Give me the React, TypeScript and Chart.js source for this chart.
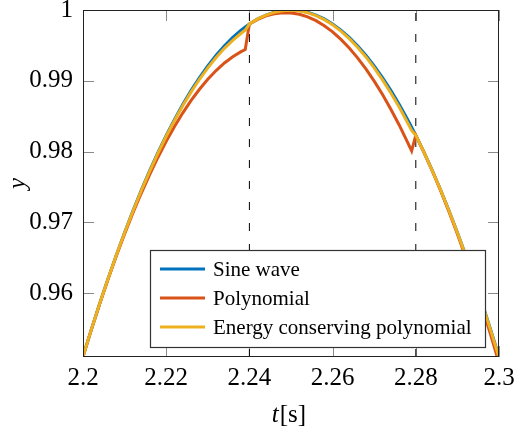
import React, { useEffect, useRef } from 'react';
import { Chart, registerables } from 'chart.js';

Chart.register(...registerables);

// ---- data ----
const tValues = [
  2.200, 2.202, 2.204, 2.206, 2.208, 2.210, 2.212, 2.214, 2.216, 2.218,
  2.220, 2.222, 2.224, 2.226, 2.228, 2.230, 2.232, 2.234, 2.236, 2.238,
  2.239, 2.240, 2.242, 2.244, 2.246, 2.248, 2.250, 2.252, 2.254, 2.256,
  2.258, 2.260, 2.262, 2.264, 2.266, 2.268, 2.270, 2.272, 2.274, 2.276,
  2.278, 2.279, 2.280, 2.282, 2.284, 2.286, 2.288, 2.290, 2.292, 2.294,
  2.296, 2.298, 2.300,
];

const sineWave = [
  0.95106, 0.95486, 0.95852, 0.96203, 0.96538, 0.96858, 0.97163, 0.97453, 0.97727, 0.97986,
  0.98229, 0.98456, 0.98669, 0.98865, 0.99046, 0.99211, 0.99361, 0.99495, 0.99613, 0.99716,
  0.99761, 0.99803, 0.99874, 0.99929, 0.99968, 0.99992, 1.00000, 0.99992, 0.99968, 0.99929,
  0.99874, 0.99803, 0.99716, 0.99613, 0.99495, 0.99361, 0.99211, 0.99046, 0.98865, 0.98669,
  0.98456, 0.98345, 0.98229, 0.97986, 0.97727, 0.97453, 0.97163, 0.96858, 0.96538, 0.96203,
  0.95852, 0.95486, 0.95106,
];

const polynomial = [
  0.95106, 0.95485, 0.95849, 0.96195, 0.96525, 0.96837, 0.97133, 0.97412, 0.97673, 0.97918,
  0.98145, 0.98354, 0.98548, 0.98723, 0.98881, 0.99021, 0.99145, 0.99252, 0.99340, 0.99412,
  0.99441, 0.99803, 0.99868, 0.99917, 0.99947, 0.99962, 0.99959, 0.99940, 0.99902, 0.99849,
  0.99778, 0.99691, 0.99585, 0.99463, 0.99324, 0.99169, 0.98995, 0.98806, 0.98599, 0.98377,
  0.98135, 0.98010, 0.98229, 0.97985, 0.97723, 0.97445, 0.97149, 0.96836, 0.96506, 0.96159,
  0.95794, 0.95413, 0.95016,
];

const energyPolynomial = [
  0.95106, 0.95486, 0.95852, 0.96202, 0.96536, 0.96855, 0.97158, 0.97447, 0.97719, 0.97976,
  0.98217, 0.98441, 0.98651, 0.98844, 0.99022, 0.99183, 0.99329, 0.99459, 0.99572, 0.99671,
  0.99714, 0.99803, 0.99874, 0.99928, 0.99967, 0.99990, 0.99997, 0.99988, 0.99962, 0.99921,
  0.99864, 0.99791, 0.99701, 0.99595, 0.99474, 0.99337, 0.99183, 0.99014, 0.98829, 0.98629,
  0.98411, 0.98298, 0.98229, 0.97986, 0.97726, 0.97452, 0.97161, 0.96855, 0.96534, 0.96197,
  0.95844, 0.95476, 0.95094,
];

const seriesLabels = ['Sine wave', 'Polynomial', 'Energy conserving polynomial'];
const segmentBoundaries = [2.24, 2.28];

const xRange = [2.2, 2.3];
const yRange = [0.951, 1];
const xTicks = [2.2, 2.22, 2.24, 2.26, 2.28, 2.3];
const xTickLabels = ['2.2', '2.22', '2.24', '2.26', '2.28', '2.3'];
const yTicks = [0.96, 0.97, 0.98, 0.99, 1];
const yTickLabels = ['0.96', '0.97', '0.98', '0.99', '1'];

const xTitleItalic = 't';
const xTitleUpright = '[s]';
const yTitle = 'y';

const FONT = '"Liberation Serif", "Times New Roman", serif';

// ---- plugins ----
const frameAndTicks = {
  id: 'frameAndTicks',
  beforeDatasetsDraw(chart: any) {
    const { ctx, chartArea: a, scales } = chart;
    const xs = scales.x;
    const ys = scales.y;
    const len = 11;
    ctx.save();
    ctx.strokeStyle = '#8a8a8a';
    ctx.lineWidth = 1;
    ctx.beginPath();
    xs.ticks.forEach((t: any) => {
      const px = Math.round(xs.getPixelForValue(t.value)) + 0.5;
      ctx.moveTo(px, a.bottom);
      ctx.lineTo(px, a.bottom - len);
      ctx.moveTo(px, a.top);
      ctx.lineTo(px, a.top + len);
    });
    ys.ticks.forEach((t: any) => {
      const py = Math.round(ys.getPixelForValue(t.value)) + 0.5;
      ctx.moveTo(a.left, py);
      ctx.lineTo(a.left + len, py);
      ctx.moveTo(a.right, py);
      ctx.lineTo(a.right - len, py);
    });
    ctx.stroke();
    ctx.restore();
  },
  afterDatasetsDraw(chart: any) {
    const { ctx, chartArea: a } = chart;
    ctx.save();
    ctx.strokeStyle = '#222';
    ctx.lineWidth = 1;
    ctx.strokeRect(Math.round(a.left) + 0.5, Math.round(a.top) + 0.5,
      Math.round(a.right - a.left) - 1, Math.round(a.bottom - a.top) - 1);
    ctx.restore();
  },
};

const boxLegend = {
  id: 'boxLegend',
  afterDatasetsDraw(chart: any) {
    const { ctx, chartArea: a } = chart;
    const items = chart.data.datasets.filter((d: any) => d.inLegend);
    ctx.save();
    ctx.font = `21px ${FONT}`;
    let maxW = 0;
    items.forEach((d: any) => { maxW = Math.max(maxW, ctx.measureText(d.label).width); });
    const padL = 10, lineLen = 45, gap = 8, padR = 13, rowH = 29, padT = 19;
    const w = padL + lineLen + gap + maxW + padR;
    const h = 97;
    const right = a.right - 14;
    const bottom = a.bottom - 10;
    const left = Math.round(right - w);
    const top = Math.round(bottom - h);
    ctx.fillStyle = '#fff';
    ctx.fillRect(left, top, right - left, bottom - top);
    ctx.strokeStyle = '#333';
    ctx.lineWidth = 1.2;
    ctx.strokeRect(left + 0.5, top + 0.5, right - left, bottom - top);
    items.forEach((d: any, i: number) => {
      const cy = top + padT + i * rowH;
      ctx.strokeStyle = d.borderColor;
      ctx.lineWidth = 3;
      ctx.beginPath();
      ctx.moveTo(left + padL, cy);
      ctx.lineTo(left + padL + lineLen, cy);
      ctx.stroke();
      ctx.fillStyle = '#000';
      ctx.textBaseline = 'middle';
      ctx.textAlign = 'left';
      ctx.fillText(d.label, left + padL + lineLen + gap, cy + 1);
    });
    ctx.restore();
  },
};

const xAxisTitle = {
  id: 'xAxisTitle',
  afterDraw(chart: any) {
    const { ctx, chartArea: a } = chart;
    ctx.save();
    ctx.fillStyle = '#000';
    ctx.textBaseline = 'alphabetic';
    ctx.textAlign = 'left';
    ctx.font = `italic 25px ${FONT}`;
    const w1 = ctx.measureText(xTitleItalic).width;
    ctx.font = `25px ${FONT}`;
    const w2 = ctx.measureText(xTitleUpright).width;
    const cx = (a.left + a.right) / 2 - 2;
    const x0 = cx - (w1 + w2 + 1) / 2;
    const y = a.bottom + 65;
    ctx.font = `italic 25px ${FONT}`;
    ctx.fillText(xTitleItalic, x0, y);
    ctx.font = `25px ${FONT}`;
    ctx.fillText(xTitleUpright, x0 + w1 + 1, y);
    ctx.restore();
  },
};

export default function App() {
  const ref = useRef<HTMLCanvasElement | null>(null);

  useEffect(() => {
    if (!ref.current) return;
    const pts = (ys: number[]) => tValues.map((t, i) => ({ x: t, y: ys[i] }));
    const dashed = (x: number) => ({
      label: 'boundary',
      data: [{ x, y: yRange[0] }, { x, y: yRange[1] }],
      borderColor: '#000',
      borderWidth: 1,
      borderDash: [8, 13],
      pointRadius: 0,
      order: 10,
      inLegend: false,
    });
    const chart = new Chart(ref.current, {
      type: 'line',
      data: {
        datasets: [
          {
            label: seriesLabels[0], data: pts(sineWave), borderColor: '#0072BD',
            borderWidth: 3, pointRadius: 0, tension: 0, order: 3, inLegend: true,
          } as any,
          {
            label: seriesLabels[1], data: pts(polynomial), borderColor: '#D95319',
            borderWidth: 3, pointRadius: 0, tension: 0, order: 2, inLegend: true,
          } as any,
          {
            label: seriesLabels[2], data: pts(energyPolynomial), borderColor: '#EDB120',
            borderWidth: 3, pointRadius: 0, tension: 0, order: 1, inLegend: true,
          } as any,
          ...segmentBoundaries.map((b) => dashed(b) as any),
        ],
      },
      options: {
        responsive: false,
        animation: false,
        events: [],
        layout: { padding: { left: 0, top: 10, right: 23, bottom: 0 } },
        plugins: {
          legend: { display: false },
          tooltip: { enabled: false },
        },
        scales: {
          x: {
            type: 'linear',
            min: xRange[0],
            max: xRange[1],
            grid: { display: false, drawTicks: false },
            border: { display: false },
            afterBuildTicks: (s: any) => { s.ticks = xTicks.map((v) => ({ value: v })); },
            afterFit: (s: any) => {
              s.height = 77;
              s.paddingLeft = 0; s.paddingRight = 0; s.paddingTop = 0; s.paddingBottom = 0;
            },
            ticks: {
              padding: 6,
              color: '#000',
              maxRotation: 0,
              autoSkip: false,
              font: { family: FONT, size: 25 },
              callback: (_v: any, i: number) => xTickLabels[i],
            },
          },
          y: {
            type: 'linear',
            min: yRange[0],
            max: yRange[1],
            grid: { display: false, drawTicks: false },
            border: { display: false },
            afterBuildTicks: (s: any) => { s.ticks = yTicks.map((v) => ({ value: v })); },
            afterFit: (s: any) => {
              s.width = 83;
              s.paddingLeft = 0; s.paddingRight = 0; s.paddingTop = 0; s.paddingBottom = 0;
            },
            title: {
              display: true,
              text: yTitle,
              color: '#000',
              padding: { top: 3, bottom: 0 },
              font: { family: FONT, size: 25, style: 'italic' },
            },
            ticks: {
              padding: 10,
              color: '#000',
              autoSkip: false,
              font: { family: FONT, size: 25 },
              callback: (_v: any, i: number) => yTickLabels[i],
            },
          },
        },
      } as any,
      plugins: [frameAndTicks, boxLegend, xAxisTitle],
    });
    return () => chart.destroy();
  }, []);

  return (
    <div style={{ position: 'fixed', left: 0, top: 0, width: 522, height: 434, background: '#fff' }}>
      <canvas ref={ref} width={522} height={434} style={{ display: 'block' }} />
    </div>
  );
}
